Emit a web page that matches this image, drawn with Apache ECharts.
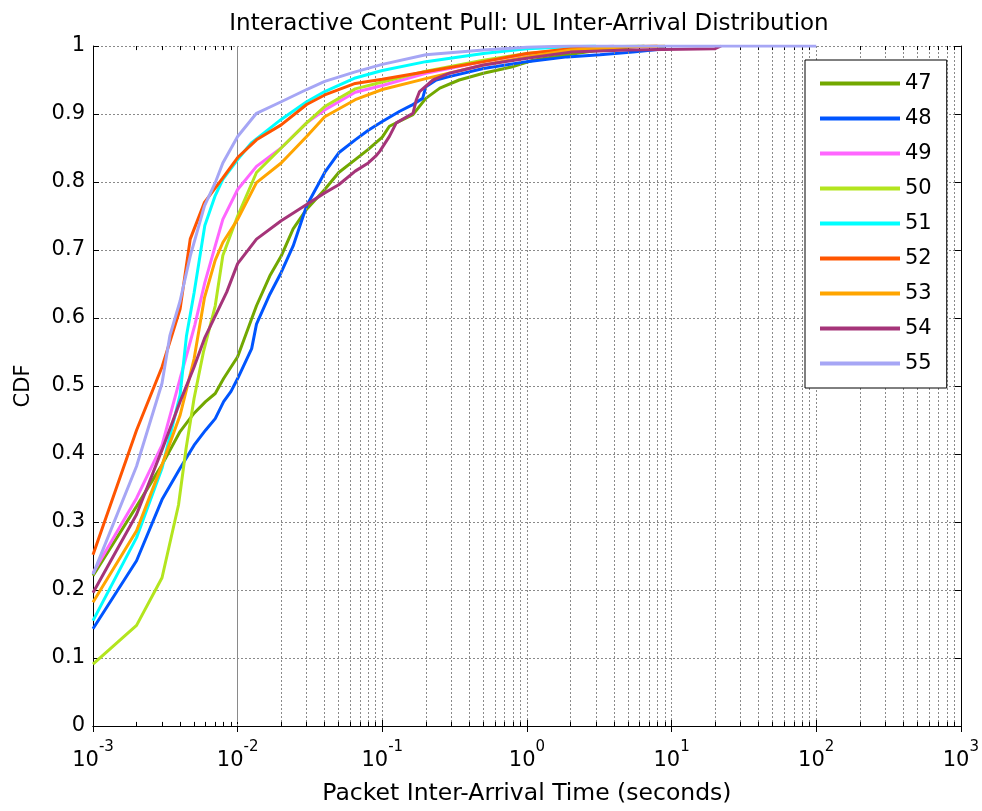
<!DOCTYPE html>
<html>
<head>
<meta charset="utf-8">
<script src="https://cdn.jsdelivr.net/npm/echarts@6/dist/echarts.min.js"></script>
<style>
html,body{margin:0;padding:0;background:#fff;}
#chart{width:982px;height:811px;}
</style>
</head>
<body>
<div id="chart"></div>
<script>
// ---- data (x in seconds, y = CDF) ----
const seriesNames = ['47','48','49','50','51','52','53','54','55'];
const colors = ['#72a800','#0055ff','#ff66ff','#b3e51e','#00ffff','#ff5500','#ffa500','#a53479','#a6a6f5'];

const x47 = [0.001,0.002,0.003,0.004,0.005,0.006,0.007,0.008,0.009,0.01,0.011,0.0125,0.0135,0.0167,0.02,0.0242,0.03,0.04,0.05,0.065,0.08,0.1,0.112,0.163,0.2,0.25,0.34,0.5,0.78,1.1,1.9,3.2,5.4,6.5];
const y47 = [0.221,0.323,0.384,0.433,0.460,0.477,0.489,0.511,0.528,0.543,0.567,0.599,0.618,0.662,0.691,0.731,0.760,0.789,0.814,0.833,0.848,0.866,0.882,0.899,0.923,0.938,0.950,0.960,0.969,0.979,0.987,0.994,0.999,1];

const x48 = [0.001,0.002,0.003,0.004,0.005,0.006,0.007,0.008,0.009,0.01,0.0125,0.0135,0.0167,0.02,0.0242,0.03,0.04,0.05,0.065,0.08,0.1,0.132,0.16,0.19,0.2,0.236,0.29,0.5,1.0,1.9,3.2,5.4,8,9];
const y48 = [0.143,0.243,0.333,0.379,0.413,0.435,0.452,0.477,0.492,0.511,0.555,0.591,0.635,0.667,0.706,0.765,0.814,0.843,0.862,0.876,0.889,0.904,0.913,0.923,0.940,0.950,0.955,0.967,0.977,0.984,0.987,0.991,0.995,1];

const x49 = [0.001,0.002,0.003,0.004,0.0045,0.00506,0.00593,0.007,0.0079,0.01,0.0135,0.02,0.03,0.04,0.065,0.1,0.2,0.5,1,2,4];
const y49 = [0.225,0.335,0.413,0.511,0.55,0.59,0.652,0.706,0.745,0.789,0.823,0.850,0.887,0.906,0.932,0.942,0.960,0.977,0.988,0.995,1];

const x50 = [0.001,0.002,0.003,0.0039,0.0044,0.005,0.0058,0.007,0.0079,0.01,0.0135,0.02,0.03,0.04,0.065,0.1,0.2,0.5,1,2,4,6];
const y50 = [0.091,0.148,0.218,0.325,0.408,0.482,0.55,0.618,0.692,0.750,0.814,0.850,0.887,0.911,0.937,0.947,0.963,0.979,0.989,0.995,0.999,1];

const x51 = [0.001,0.002,0.003,0.004,0.00443,0.005,0.00593,0.007,0.0079,0.01,0.0125,0.02,0.03,0.04,0.065,0.1,0.2,0.5,1,2,3];
const y51 = [0.155,0.277,0.379,0.487,0.574,0.637,0.736,0.780,0.804,0.833,0.858,0.892,0.918,0.933,0.953,0.964,0.977,0.989,0.996,0.999,1];

const x52 = [0.001,0.002,0.003,0.004,0.0047,0.0059,0.0079,0.01,0.0135,0.02,0.03,0.04,0.065,0.1,0.2,0.5,1,2,5,8];
const y52 = [0.252,0.435,0.528,0.613,0.716,0.770,0.806,0.836,0.862,0.884,0.914,0.928,0.945,0.951,0.962,0.977,0.989,0.996,0.999,1];

const x53 = [0.001,0.002,0.003,0.004,0.005,0.0059,0.007,0.0079,0.01,0.0135,0.02,0.03,0.04,0.065,0.1,0.2,0.5,1,2,5,9];
const y53 = [0.182,0.287,0.384,0.457,0.54,0.63,0.685,0.711,0.745,0.799,0.828,0.867,0.896,0.921,0.936,0.952,0.972,0.984,0.994,0.999,1];

const x54 = [0.001,0.002,0.003,0.004,0.005,0.0059,0.0084,0.01,0.0135,0.02,0.03,0.04,0.05,0.065,0.08,0.09,0.096,0.112,0.125,0.163,0.172,0.181,0.224,0.292,0.5,1,2,5,20,22];
const y54 = [0.196,0.311,0.406,0.477,0.528,0.570,0.638,0.680,0.716,0.743,0.767,0.784,0.796,0.816,0.828,0.838,0.845,0.867,0.887,0.901,0.921,0.933,0.950,0.960,0.972,0.982,0.991,0.994,0.996,1];

const x55 = [0.001,0.002,0.003,0.0034,0.004,0.0047,0.0059,0.007,0.0079,0.01,0.0135,0.02,0.03,0.04,0.065,0.1,0.2,0.5,1,2,100];
const y55 = [0.223,0.382,0.504,0.574,0.625,0.691,0.765,0.799,0.828,0.867,0.901,0.918,0.936,0.948,0.962,0.973,0.987,0.994,0.998,1,1];

const xs = [x47,x48,x49,x50,x51,x52,x53,x54,x55];
const ys = [y47,y48,y49,y50,y51,y52,y53,y54,y55];

// minor grid / tick positions on the log axis (2..9 × decade)
const decades = [0.001,0.01,0.1,1,10,100];
const minorMultipliers = [2,3,4,5,6,7,8,9];

const titleText = 'Interactive Content Pull: UL Inter-Arrival Distribution';
const xName = 'Packet Inter-Arrival Time (seconds)';
const yName = 'CDF';

// ---- build options ----
const FONT = 'DejaVu Sans, Liberation Sans, Arial, sans-serif';
const gridColor = '#8a8a8a';
const minorVals = [];
decades.forEach(d => minorMultipliers.forEach(m => minorVals.push(+(d*m).toPrecision(3))));
const minorTickLen = 0.006; // in CDF units

const series = seriesNames.map((n,i) => ({
  name: n,
  type: 'line',
  xAxisIndex: 0, yAxisIndex: 0,
  showSymbol: false,
  symbol: 'none',
  lineStyle: {width: 3, color: colors[i]},
  itemStyle: {color: colors[i]},
  data: xs[i].map((v,j) => [v, ys[i][j]]),
  z: 3 + i,
  animation: false
}));
series.unshift({
  name: '__grid',
  type: 'line',
  data: [],
  silent: true,
  z: 1,
  markLine: {
    silent: true,
    symbol: 'none',
    animation: false,
    label: {show: false},
    lineStyle: {color: gridColor, type: [2,2], width: 1},
    data: minorVals.map(v => ({xAxis: v}))
  }
});
series.push({
  name: '__minorticks',
  type: 'line',
  data: [],
  silent: true,
  z: 15,
  markLine: {
    silent: true,
    symbol: 'none',
    animation: false,
    label: {show: false},
    lineStyle: {color: '#000', type: 'solid', width: 1},
    data: minorVals.map(v => [{coord: [v, 0]}, {coord: [v, minorTickLen]}])
      .concat(minorVals.map(v => [{coord: [v, 1]}, {coord: [v, 1 - minorTickLen]}]))
  }
});

const option = {
  backgroundColor: '#fff',
  animation: false,
  title: {
    text: titleText,
    left: 524, top: 8,
    textAlign: 'center',
    textStyle: {fontFamily: FONT, fontSize: 23, fontWeight: 'normal', color: '#000'}
  },
  grid: {left: 93, right: 20, top: 46, bottom: 82, containLabel: false},
  legend: {
    data: seriesNames,
    orient: 'vertical',
    left: 805, top: 60,
    padding: [13, 15, 14, 15],
    itemGap: 14,
    itemWidth: 80,
    itemHeight: 4,
    itemTextGap: 13,
    icon: 'rect',
    borderColor: '#000', borderWidth: 1,
    backgroundColor: '#fff',
    textStyle: {fontFamily: FONT, fontSize: 21, color: '#000', lineHeight: 21},
    z: 20
  },
  xAxis: [{
    type: 'log', logBase: 10, min: 0.001, max: 1000,
    name: xName, nameLocation: 'middle', nameGap: 56,
    nameTextStyle: {fontFamily: FONT, fontSize: 23.5, color: '#000'},
    axisLine: {show: true, lineStyle: {color: '#000', width: 1}},
    axisTick: {show: true, inside: true, length: 6, lineStyle: {color: '#000'}},
    axisLabel: {
      margin: 14,
      formatter: v => '{b|10}{s|' + Math.round(Math.log10(v)) + '}',
      rich: {
        b: {fontFamily: FONT, fontSize: 21, color: '#000', verticalAlign: 'bottom', padding: [10,0,0,0]},
        s: {fontFamily: FONT, fontSize: 15, color: '#000', verticalAlign: 'top', padding: [0,0,10,0]}
      }
    },
    splitLine: {show: true, lineStyle: {color: gridColor, type: [2,2], width: 1}}
  }, {
    type: 'log', logBase: 10, min: 0.001, max: 1000, position: 'top',
    axisLine: {show: true, lineStyle: {color: '#000', width: 1}},
    axisTick: {show: true, inside: true, length: 6, lineStyle: {color: '#000'}},
    axisLabel: {show: false}, splitLine: {show: false}
  }],
  yAxis: [{
    type: 'value', min: 0, max: 1, interval: 0.1,
    name: yName, nameLocation: 'middle', nameGap: 59, nameRotate: 90,
    nameTextStyle: {fontFamily: FONT, fontSize: 21, color: '#000'},
    axisLine: {show: true, lineStyle: {color: '#000', width: 1}},
    axisTick: {show: true, inside: true, length: 6, lineStyle: {color: '#000'}},
    axisLabel: {fontFamily: FONT, fontSize: 21, color: '#000', margin: 8,
      formatter: v => String(Math.round(v*10)/10)},
    splitLine: {show: true, lineStyle: {color: gridColor, type: [2,2], width: 1}}
  }, {
    type: 'value', min: 0, max: 1, interval: 0.1, position: 'right',
    axisLine: {show: true, lineStyle: {color: '#000', width: 1}},
    axisTick: {show: true, inside: true, length: 6, lineStyle: {color: '#000'}},
    axisLabel: {show: false}, splitLine: {show: false}
  }],
  series: series
};

const chart = echarts.init(document.getElementById('chart'), null, {renderer: 'canvas'});
chart.setOption(option);
</script>
</body>
</html>
